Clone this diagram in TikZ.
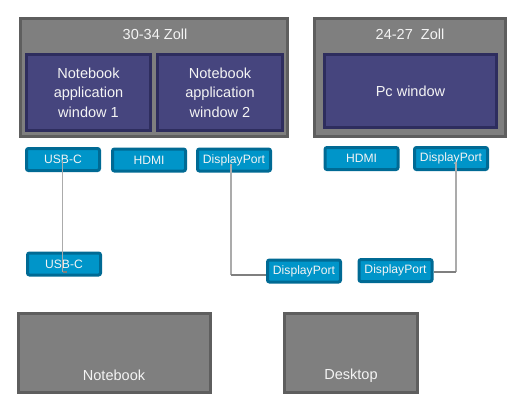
\documentclass[tikz,border=0pt]{standalone}
\usepackage{fontspec}
\setmainfont{Liberation Sans}
\definecolor{monfill}{HTML}{7F7F7F}
\definecolor{monedge}{HTML}{5E5E5E}
\definecolor{winfill}{HTML}{46457E}
\definecolor{winedge}{HTML}{2E2D5E}
\definecolor{portfill}{HTML}{0095C9}
\definecolor{portedge}{HTML}{006A94}
\definecolor{wirelight}{HTML}{ABABAB}
\definecolor{wiredark}{HTML}{7F7F7F}
\definecolor{txt}{HTML}{F4F4F4}
\begin{document}
\begin{tikzpicture}[x=0.75pt,y=-0.75pt,
  monitor/.style={draw=monedge,fill=monfill,line width=2.25pt,inner sep=0pt},
  window/.style={draw=winedge,fill=winfill,line width=2.25pt,inner sep=0pt,text=txt,
    font=\fontsize{10.9}{14.6}\selectfont,align=center},
  port/.style={draw=portedge,fill=portfill,line width=2.25pt,rounded corners=1.5pt,inner sep=0pt,
    text=txt,font=\fontsize{9.1}{10}\selectfont,minimum width=73*0.75pt,minimum height=22*0.75pt},
  label/.style={text=txt,font=\fontsize{10.9}{13}\selectfont,inner sep=0pt},
  wirev/.style={draw=wirelight,line width=1.2pt},
  wireh/.style={draw=wiredark,line width=1.1pt}]
\useasboundingbox (0,0) rectangle (527,408);
% monitors
\node[monitor,minimum width=267*0.75pt,minimum height=118*0.75pt] (mon1) at (154,77.5) {};
\node[label] (t1) at (155,34) {30-34 Zoll};
\node[monitor,minimum width=191*0.75pt,minimum height=118*0.75pt] (mon2) at (410,77.5) {};
\node[label] (t2) at (410,34) {24-27\ \ Zoll};
% windows
\node[window,minimum width=124*0.75pt,minimum height=76*0.75pt] (w1) at (88.5,92.5) {Notebook\\application\\window 1};
\node[window,minimum width=125*0.75pt,minimum height=76*0.75pt] (w2) at (220,92.5) {Notebook\\application\\window 2};
\node[window,minimum width=172*0.75pt,minimum height=73*0.75pt] (pcw) at (410.5,91) {Pc window};
% ports
\node[port] (usbT) at (63,159.5) {USB-C};
\node[port] (hdmiL) at (149,160) {HDMI};
\node[port] (dpL) at (234,160) {DisplayPort};
\node[port] (hdmiR) at (361.5,158.5) {HDMI};
\node[port] (dpR) at (451,158.5) {DisplayPort};
\node[port] (usbB) at (64,264) {USB-C};
\node[port] (dpB1) at (304,271) {DisplayPort};
\node[port] (dpB2) at (395.5,270.5) {DisplayPort};
% computers
\node[monitor,minimum width=192*0.75pt,minimum height=79*0.75pt] (nb) at (114.5,353) {};
\node[label] (nbt) at (114,375) {Notebook};
\node[monitor,minimum width=133*0.75pt,minimum height=79*0.75pt] (dt) at (351,353) {};
\node[label] (dtt) at (351,376) {Desktop};
% connectors
\coordinate (u1) at (usbT.center -| 62.5,0);
\coordinate (u2) at (62.5,272);
\coordinate (u3) at (66.5,272);
\draw[wirev] (u1) -- (u2);
\draw[wireh] (u2) -- (u3);
\coordinate (d1) at (231,164);
\coordinate (d2) at (231,275);
\draw[wirev] (d1) -- (d2);
\draw[wireh] (d2) -- (dpB1.west |- d2);
\coordinate (r1) at (456,162);
\coordinate (r2) at (456,272);
\draw[wirev] (r1) -- (r2);
\draw[wireh] (r2) -- (dpB2.east |- r2);
\end{tikzpicture}
\end{document}
